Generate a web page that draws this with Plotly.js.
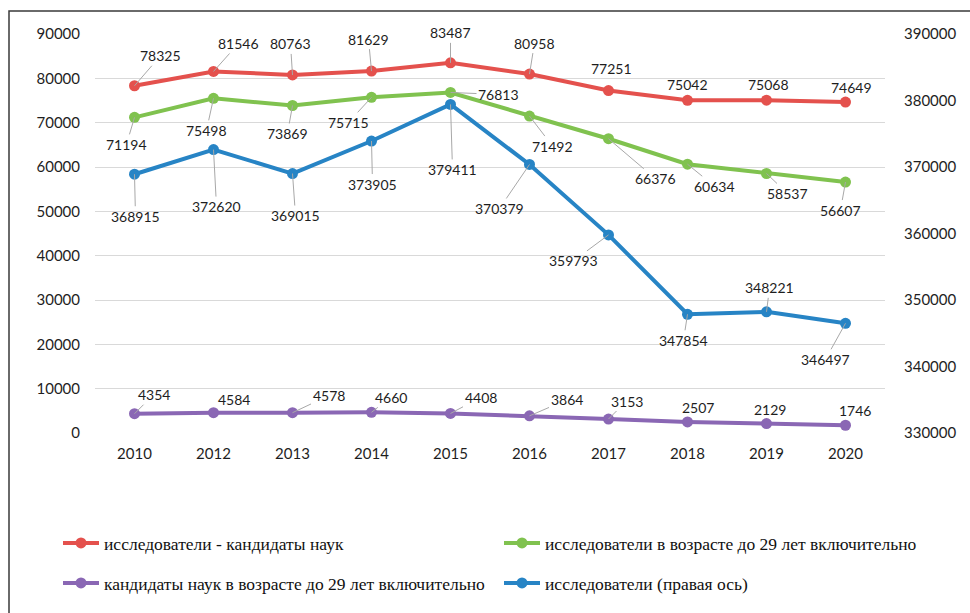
<!DOCTYPE html>
<html>
<head>
<meta charset="utf-8">
<script src="https://cdn.plot.ly/plotly-3.0.1.min.js"></script>
<style>html,body{margin:0;padding:0;background:#fff;}#chart{width:970px;height:613px;}</style>
</head>
<body>
<div id="chart"></div>
<script>
// ---- data ----
const years = ["2010","2012","2013","2014","2015","2016","2017","2018","2019","2020"];
const candidates = [78325,81546,80763,81629,83487,80958,77251,75042,75068,74649];
const youngResearchers = [71194,75498,73869,75715,76813,71492,66376,60634,58537,56607];
const youngCandidates = [4354,4584,4578,4660,4408,3864,3153,2507,2129,1746];
const researchers = [368915,372620,369015,373905,379411,370379,359793,347854,348221,346497];

const names = [
  "исследователи - кандидаты наук",
  "исследователи в возрасте до 29 лет включительно",
  "кандидаты наук в возрасте до 29 лет включительно",
  "исследователи (правая ось)"
];

// ---- label offsets (pixels, text centre relative to point) ----
const offCand  = [[26,-30],[25,-28],[-2,-31],[-3,-32],[0,-30],[5,-31],[3,-22],[0,-16],[2,-16],[6,-15]];
const offYoung = [[-8,27],[-7,32],[-5,28],[-23,25],[48,2],[23,30],[47,40],[27,22],[21,20],[-5,28]];
const offYC    = [[19,-19],[20,-13],[36,-17],[19,-15],[30,-16],[37,-16],[18,-18],[10,-14],[3,-14],[9,-15]];
const offRes   = [[1,42],[3,57],[3,42],[1,43],[2,65],[-30,44],[-35,26],[-4,26],[3,-24],[-20,36]];

const colors = {red:"#E4514D", green:"#80C24F", purple:"#8A67B4", blue:"#2784C5"};
const tickFont = {family:"Lato, 'Open Sans', sans-serif", size:15, color:"#1e1e1e"};

function tr(y, name, color, axis, legend){
  return {x:years, y:y, name:name, type:"scatter", mode:"lines+markers",
    line:{color:color, width:4}, marker:{color:color, size:11},
    yaxis:axis, legend:legend, hoverinfo:"skip"};
}

const data = [
  tr(youngCandidates, names[2], colors.purple, "y", "legend3"),
  tr(researchers, names[3], colors.blue, "y2", "legend4"),
  tr(youngResearchers, names[1], colors.green, "y", "legend2"),
  tr(candidates, names[0], colors.red, "y", "legend")
];

const annotations = [];
function addLabels(vals, offs, yref){
  vals.forEach((v,i)=>{
    const o = offs[i];
    const long = Math.hypot(o[0],o[1]) > 24;
    annotations.push({x:i, y:v, xref:"x", yref:yref, text:String(v),
      showarrow:true, ax:o[0], ay:o[1], arrowhead:0, arrowwidth:1,
      arrowcolor: long ? "#A8A8A8" : "rgba(255,255,255,0)",
      font:{family:"Lato, 'Open Sans', sans-serif", size:14, color:"#1e1e1e"}});
  });
}
addLabels(candidates, offCand, "y");
addLabels(youngResearchers, offYoung, "y");
addLabels(youngCandidates, offYC, "y");
addLabels(researchers, offRes, "y2");

const W = 970, H = 613, L = 95, R = 85, T = 34, B = 180;
const pw = W-L-R, ph = H-T-B;
const px = p => (p-L)/pw;
const py = p => (H-B-p)/ph;

function leg(xp, yp){
  return {orientation:"h", x:px(xp), xanchor:"left", y:py(yp), yanchor:"middle",
    font:{family:"'Liberation Serif', 'DejaVu Serif', serif", size:17.5, color:"#111"},
    bgcolor:"rgba(0,0,0,0)", itemclick:false, itemwidth:36};
}

const layout = {
  width:W, height:H, margin:{l:L, r:R, t:T, b:B},
  paper_bgcolor:"#fff", plot_bgcolor:"#fff",
  showlegend:true,
  xaxis:{type:"category", range:[-0.5,9.5], showgrid:false, zeroline:false,
    showline:false, ticks:"", tickfont:tickFont, ticklabelstandoff:10, fixedrange:true},
  yaxis:{range:[0,90000], dtick:10000, tick0:0, showgrid:true, gridcolor:"#D9D9D9", gridwidth:1,
    zeroline:false, showline:false, ticks:"", tickfont:tickFont, ticklabelstandoff:14,
    tickformat:"d", fixedrange:true},
  yaxis2:{range:[330000,390000], dtick:10000, tick0:330000, overlaying:"y", side:"right",
    showgrid:false, zeroline:false, showline:false, ticks:"", tickfont:tickFont,
    ticklabelstandoff:18, tickformat:"d", fixedrange:true},
  legend:leg(58,543),
  legend2:leg(499,543),
  legend3:leg(58,583),
  legend4:leg(499,583),
  annotations:annotations,
  shapes:[{type:"rect", xref:"paper", yref:"paper", x0:px(9), x1:px(990), y0:py(640), y1:py(11),
    line:{color:"#3a3a3a", width:1.5}, fillcolor:"rgba(0,0,0,0)", layer:"below"}]
};

Plotly.newPlot("chart", data, layout, {displayModeBar:false});
</script>
</body>
</html>
